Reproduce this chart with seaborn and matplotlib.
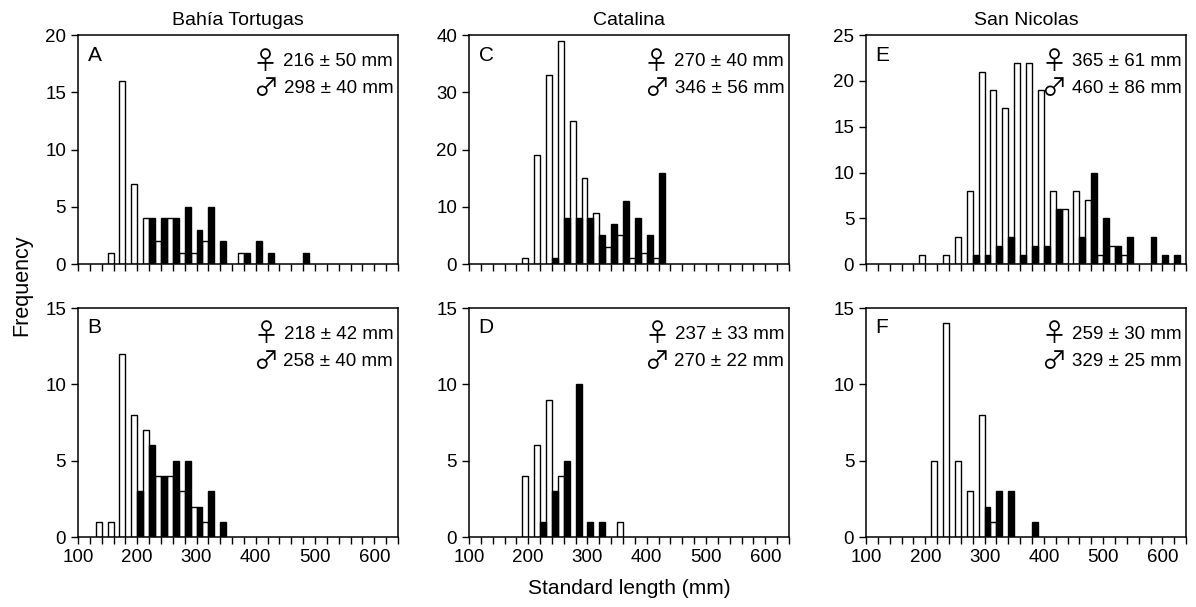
import pandas as pd
import matplotlib.pyplot as plt
import seaborn as sns
from matplotlib.ticker import MultipleLocator

# bin centres (mm) and counts; female = white, male = black
# A - Bahia Tortugas, top row
a_fem_bins = [160, 180, 200, 220, 240, 260, 280, 300, 320, 380]
a_fem = [1, 16, 7, 4, 2, 4, 1, 1, 2, 1]
a_mal_bins = [220, 240, 260, 280, 300, 320, 340, 380, 400, 420, 480]
a_mal = [4, 4, 4, 5, 3, 5, 2, 1, 2, 1, 1]

# B - Bahia Tortugas, bottom row
b_fem_bins = [140, 160, 180, 200, 220, 240, 260, 280, 300, 320]
b_fem = [1, 1, 12, 8, 7, 4, 4, 3, 2, 1]
b_mal_bins = [200, 220, 240, 260, 280, 300, 320, 340]
b_mal = [3, 6, 4, 5, 5, 2, 3, 1]

# C - Catalina, top row
c_fem_bins = [200, 220, 240, 260, 280, 300, 320, 340, 360, 380, 400, 420]
c_fem = [1, 19, 33, 39, 25, 15, 9, 3, 5, 1, 2, 1]
c_mal_bins = [240, 260, 280, 300, 320, 340, 360, 380, 400, 420]
c_mal = [1, 8, 8, 8, 5, 7, 11, 8, 5, 16]

# D - Catalina, bottom row
d_fem_bins = [200, 220, 240, 260, 360]
d_fem = [4, 6, 9, 4, 1]
d_mal_bins = [220, 240, 260, 280, 300, 320]
d_mal = [1, 3, 5, 10, 1, 1]

# E - San Nicolas, top row
e_fem_bins = [200, 240, 260, 280, 300, 320, 340, 360, 380, 400, 420, 440, 460,
              480, 500, 520, 540]
e_fem = [1, 1, 3, 8, 21, 19, 17, 22, 22, 19, 8, 6, 8, 7, 1, 2, 1]
e_mal_bins = [280, 300, 320, 340, 360, 380, 400, 420, 460, 480, 500, 520, 540,
              580, 600, 620]
e_mal = [1, 1, 2, 3, 1, 2, 2, 6, 3, 10, 5, 2, 3, 3, 1, 1]

# F - San Nicolas, bottom row
f_fem_bins = [220, 240, 260, 280, 300, 320]
f_fem = [5, 14, 5, 3, 8, 1]
f_mal_bins = [300, 320, 340, 380]
f_mal = [2, 3, 3, 1]

letters = ["A", "B", "C", "D", "E", "F"]
fem_stats = ["216 \u00b1 50 mm", "218 \u00b1 42 mm", "270 \u00b1 40 mm",
             "237 \u00b1 33 mm", "365 \u00b1 61 mm", "259 \u00b1 30 mm"]
mal_stats = ["298 \u00b1 40 mm", "258 \u00b1 40 mm", "346 \u00b1 56 mm",
             "270 \u00b1 22 mm", "460 \u00b1 86 mm", "329 \u00b1 25 mm"]
sites = ["Bah\u00eda Tortugas", "Catalina", "San Nicolas"]
y_max = [20, 15, 40, 15, 25, 15]
y_step = [5, 5, 10, 5, 5, 5]


def make_frame(fem_bins, fem, mal_bins, mal):
    df_f = pd.DataFrame({"length": fem_bins, "count": fem, "sex": "female"})
    df_m = pd.DataFrame({"length": mal_bins, "count": mal, "sex": "male"})
    return pd.concat([df_f, df_m], ignore_index=True)


frames = [
    make_frame(a_fem_bins, a_fem, a_mal_bins, a_mal),
    make_frame(b_fem_bins, b_fem, b_mal_bins, b_mal),
    make_frame(c_fem_bins, c_fem, c_mal_bins, c_mal),
    make_frame(d_fem_bins, d_fem, d_mal_bins, d_mal),
    make_frame(e_fem_bins, e_fem, e_mal_bins, e_mal),
    make_frame(f_fem_bins, f_fem, f_mal_bins, f_mal),
]

sns.set_style("ticks")
plt.rcParams["font.family"] = ["Liberation Sans", "DejaVu Sans"]
plt.rcParams["axes.edgecolor"] = "black"
plt.rcParams["xtick.color"] = "black"
plt.rcParams["ytick.color"] = "black"
plt.rcParams["text.color"] = "black"

fig = plt.figure(figsize=(11.96, 6.07), dpi=100)

col_left = [0.0652, 0.3921, 0.7241]
row_bottom = [0.5650, 0.1153]
w, h = 0.2676, 0.3770


def stat_line(ax, y, symbol, label):
    # numbers right-aligned, thin sex symbol drawn just left of them
    t = ax.text(0.985, y, label, transform=ax.transAxes, fontsize=13.5,
                ha="right", va="center")
    ax.annotate(symbol, xy=(0, 0.5), xycoords=t, xytext=(-4, 0),
                textcoords="offset points", fontsize=18,
                family=["Noto Sans CJK JP", "DejaVu Sans"],
                ha="right", va="center")


for i, df in enumerate(frames):
    col, row = i // 2, i % 2
    ax = fig.add_axes([col_left[col], row_bottom[row], w, h])
    sns.barplot(data=df, x="length", y="count", hue="sex",
                hue_order=["female", "male"],
                palette={"female": "white", "male": "black"},
                native_scale=True, dodge=True, width=1.0,
                edgecolor="black", linewidth=1.0,
                errorbar=None, legend=False, ax=ax)

    ax.set_xlim(100, 640)
    ax.set_ylim(0, y_max[i])
    ax.xaxis.set_major_locator(MultipleLocator(100))
    ax.xaxis.set_minor_locator(MultipleLocator(20))
    ax.yaxis.set_major_locator(MultipleLocator(y_step[i]))
    ax.tick_params(axis="both", which="both", direction="out", length=5,
                   width=1.0, labelsize=13.5)
    for sp in ax.spines.values():
        sp.set_linewidth(1.1)
    ax.set_xlabel("")
    ax.set_ylabel("")
    if row == 0:
        ax.tick_params(labelbottom=False)
        ax.set_title(sites[col], fontsize=14, pad=7)

    ax.text(0.03, 0.955, letters[i], transform=ax.transAxes, fontsize=15,
            ha="left", va="top")
    stat_line(ax, 0.885, "\u2640", fem_stats[i])
    stat_line(ax, 0.765, "\u2642", mal_stats[i])

fig.text(0.018, 0.53, "Frequency", rotation=90, fontsize=15.5,
         ha="center", va="center")
fig.text(0.526, 0.03, "Standard length (mm)", fontsize=15,
         ha="center", va="center")

fig.savefig("out.png", dpi=100)
